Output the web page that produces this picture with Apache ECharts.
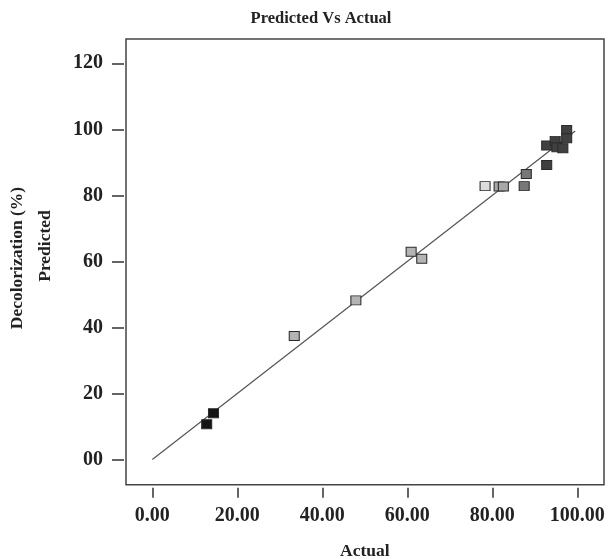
<!DOCTYPE html>
<html>
<head>
<meta charset="utf-8">
<script src="https://cdn.jsdelivr.net/npm/echarts@6/dist/echarts.min.js"></script>
<style>
html,body{margin:0;padding:0;background:#fff;}
#chart{width:611px;height:559px;}
</style>
</head>
<body>
<div id="chart"></div>
<script>
// ---- data ----
var actual    = [12.8, 14.4, 33.4, 47.9, 60.9, 63.4, 78.3, 81.6, 82.6, 87.5, 88.0, 92.8, 92.8, 94.8, 95.2, 96.6, 97.5, 97.5];
var predicted = [10.7, 14.0, 37.4, 48.2, 62.9, 60.8, 82.8, 82.7, 82.7, 82.8, 86.5, 89.2, 95.1, 96.5, 94.6, 94.3, 99.8, 97.3];
var fitLineX  = [0, 99.5];
var fitLineY  = [0, 99.5];
var xTicks    = [0, 20, 40, 60, 80, 100];
var yTicks    = [0, 20, 40, 60, 80, 100, 120];
var titleText = 'Predicted Vs Actual';
var xName     = 'Actual';
var yNameLines = ['Decolorization (%)', 'Predicted'];

var FONT = "'Liberation Serif','Times New Roman',serif";

function colorFor(v) {
  if (v < 20) return '#141414';
  if (v < 70) return '#b4b4b4';
  if (v < 80) return '#dcdcdc';
  if (v < 85) return '#a8a8a8';
  if (v < 90) return '#777777';
  return '#404040';
}

var pts = actual.map(function (a, i) { return [a, predicted[i]]; });
var linePts = fitLineX.map(function (x, i) { return [x, fitLineY[i]]; });

var gridBase = {containLabel: false, outerBoundsMode: 'none'};
function g(o) { return Object.assign({}, gridBase, o); }

var chart = echarts.init(document.getElementById('chart'), null, {renderer: 'canvas'});
chart.setOption({
  animation: false,
  backgroundColor: '#fff',
  title: {
    text: titleText, left: 316, top: 5, textAlign: 'center',
    textStyle: {fontFamily: FONT, fontWeight: 'bold', fontSize: 16.5, color: '#222'}
  },
  grid: [
    // 0: frame box
    g({left: 126, top: 39, width: 478, height: 445.7, show: true, borderColor: '#444', borderWidth: 1.5, backgroundColor: 'transparent'}),
    // 1: data area
    g({left: 152.3, top: 63.3, width: 425, height: 396.2}),
    // 2: x tick/label axis, sitting just below the frame
    g({left: 152.3, top: 63.3, width: 425, height: 424.4}),
    // 3: y tick/label axis, sitting just left of the frame
    g({left: 124, top: 63.3, width: 453.3, height: 396.2})
  ],
  xAxis: [
    {gridIndex: 0, type: 'value', min: 0, max: 1, show: false},
    {gridIndex: 1, type: 'value', min: xTicks[0], max: xTicks[xTicks.length - 1], show: false},
    {gridIndex: 2, type: 'value', min: xTicks[0], max: xTicks[xTicks.length - 1], interval: 20,
     axisLine: {show: false}, splitLine: {show: false},
     axisTick: {show: true, length: 10, lineStyle: {color: '#333', width: 1.5}},
     axisLabel: {margin: 18, fontFamily: FONT, fontWeight: 'bold', fontSize: 20, color: '#222',
       formatter: function (v) { return v.toFixed(2); }},
     name: xName, nameLocation: 'middle', nameGap: 55,
     nameTextStyle: {fontFamily: FONT, fontWeight: 'bold', fontSize: 17.5, color: '#222'}
    },
    {gridIndex: 3, type: 'value', min: 0, max: 1, show: false}
  ],
  yAxis: [
    {gridIndex: 0, type: 'value', min: 0, max: 1, show: false},
    {gridIndex: 1, type: 'value', min: yTicks[0], max: yTicks[yTicks.length - 1], show: false},
    {gridIndex: 2, type: 'value', min: 0, max: 1, show: false},
    {gridIndex: 3, type: 'value', min: yTicks[0], max: yTicks[yTicks.length - 1], interval: 20,
     axisLine: {show: false}, splitLine: {show: false},
     axisTick: {show: true, length: 12, lineStyle: {color: '#333', width: 1.5}},
     axisLabel: {margin: 21, fontFamily: FONT, fontWeight: 'bold', fontSize: 20, color: '#222',
       formatter: function (v) { return v === 0 ? '00' : String(v); }}
    }
  ],
  graphic: [
    {type: 'text', x: 17, y: 258, rotation: Math.PI / 2, style: {text: yNameLines[0], fontFamily: FONT, fontWeight: 'bold', fontSize: 17.5, fill: '#222', align: 'center', verticalAlign: 'middle'}},
    {type: 'text', x: 45, y: 246, rotation: Math.PI / 2, style: {text: yNameLines[1], fontFamily: FONT, fontWeight: 'bold', fontSize: 17.5, fill: '#222', align: 'center', verticalAlign: 'middle'}}
  ],
  series: [
    {type: 'line', xAxisIndex: 1, yAxisIndex: 1, data: linePts, symbol: 'none', clip: false,
     lineStyle: {color: '#555', width: 1.2}, z: 2},
    {type: 'scatter', xAxisIndex: 1, yAxisIndex: 1, data: pts, symbol: 'rect', symbolSize: [10, 9], clip: false,
     itemStyle: {color: function (p) { return colorFor(p.value[0]); }, borderColor: '#2a2a2a', borderWidth: 1, opacity: 1},
     z: 3}
  ]
});
</script>
</body>
</html>
